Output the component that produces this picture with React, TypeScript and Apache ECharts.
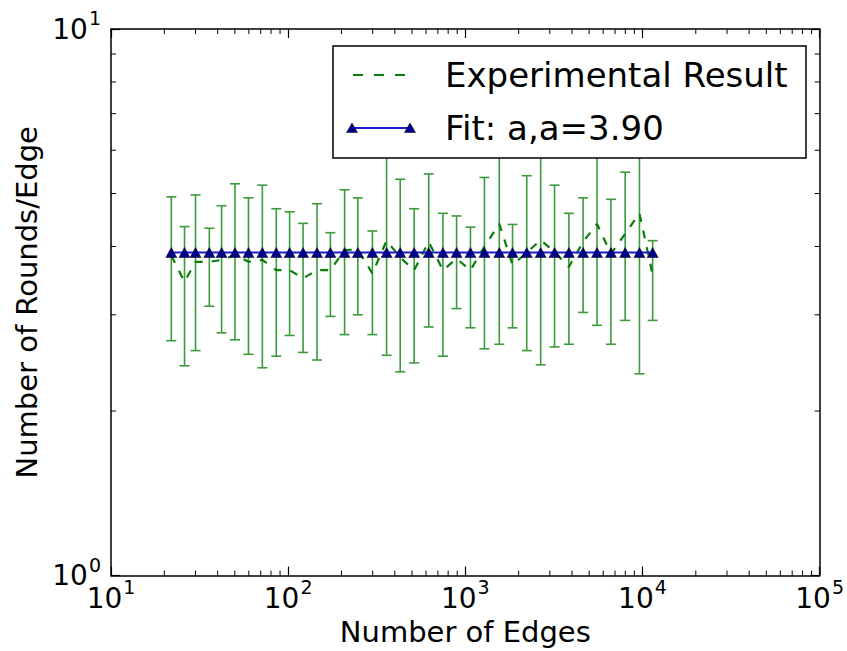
import React, { useEffect, useRef } from "react";
import * as echarts from "echarts";

// Number of edges (x) for each measurement
const edges = [
  21.9, 26.0, 30.0, 35.9, 42.1, 50.1, 59.7, 71.5, 85.7, 101.9, 121.4, 145.5,
  173.1, 208.2, 247.2, 298.9, 359.5, 429.0, 514.2, 621.5, 747.5, 892.6, 1069,
  1282, 1555, 1847, 2222, 2663, 3190, 3842, 4622, 5537, 6637, 7985, 9614, 11414,
];
// Mean number of rounds per edge
const meanRounds = [
  3.85, 3.45, 3.75, 3.75, 3.78, 3.86, 3.75, 3.78, 3.62, 3.62, 3.5, 3.62, 3.62,
  3.94, 3.95, 3.57, 4.1, 3.82, 3.62, 4.08, 3.62, 3.8, 3.62, 4.0, 4.4, 3.7, 3.9,
  4.11, 3.91, 3.67, 4.08, 4.4, 3.88, 4.22, 4.6, 3.55,
];
// Lower end of error bar
const errLow = [
  2.69, 2.42, 2.58, 3.11, 2.78, 2.7, 2.54, 2.4, 2.52, 2.75, 2.56, 2.48, 2.98,
  2.76, 3.0, 2.76, 2.53, 2.36, 2.45, 2.85, 2.52, 3.08, 2.84, 2.6, 2.65, 2.84,
  2.58, 2.43, 2.62, 2.65, 3.03, 2.87, 2.65, 2.93, 2.34, 2.93,
];
// Upper end of error bar
const errHigh = [
  4.93, 4.35, 4.97, 4.32, 4.75, 5.21, 4.91, 5.18, 4.69, 4.63, 4.41, 4.79, 4.24,
  5.08, 4.91, 4.27, 6.3, 5.31, 4.69, 5.43, 4.6, 4.55, 4.34, 5.35, 6.4, 4.39,
  5.39, 6.2, 5.18, 4.6, 4.91, 6.5, 4.88, 5.47, 6.3, 4.1,
];
// Fitted constant
const fitA = 3.9;

const xAxisName = "Number of Edges";
const yAxisName = "Number of Rounds/Edge";
const legendLabels = ["Experimental Result", "Fit: a,a=3.90"];
const xRange = [10, 100000];
const yRange = [1, 10];
const minorMultipliers = [2, 3, 4, 5, 6, 7, 8, 9];
const xDecades = [10, 100, 1000, 10000];
const yDecades = [1];

const FONT = "DejaVu Sans";
const GREEN = "#0a7d0a";
const BAR_GREEN = "#3c9a3c";
const BLUE = "#1c1cd0";
const MARKER = "#00008c";

export default function App() {
  const ref = useRef<HTMLDivElement>(null);

  useEffect(() => {
    document.body.style.margin = "0";
    if (!ref.current) return;
    const chart = echarts.init(ref.current, undefined, { renderer: "svg" });

    const labelFormatter = (v: number) => {
      const e = Math.round(Math.log10(v));
      return `{b|10}{s|${e}}`;
    };
    const rich = {
      b: { fontSize: 28, fontFamily: FONT, color: "#000" },
      s: { fontSize: 19, fontFamily: FONT, color: "#000", padding: [0, 0, 22, 1] },
    };
    const axisLine = { show: true, lineStyle: { color: "#000", width: 1.5 } };
    const majorTick = { show: true, inside: true, length: 9, lineStyle: { color: "#000", width: 1.2 } };

    const errData = edges.map((x, i) => [x, errLow[i], errHigh[i]]);
    const expData = edges.map((x, i) => [x, meanRounds[i]]);
    const fitData = edges.map((x) => [x, fitA]);

    const lx = 333, ly = 46, lw = 473, lh = 112;
    const row1 = 75, row2 = 128;
    const tri = (cx: number, cy: number) => [
      [cx - 5.5, cy + 4.5],
      [cx + 5.5, cy + 4.5],
      [cx, cy - 5],
    ];

    chart.setOption({
      animation: false,
      grid: { left: 111, top: 29, right: 23, bottom: 71, containLabel: false },
      xAxis: [
        {
          type: "log",
          logBase: 10,
          min: xRange[0],
          max: xRange[1],
          name: xAxisName,
          nameLocation: "middle",
          nameGap: 41,
          nameTextStyle: { fontSize: 29, fontFamily: FONT, color: "#000" },
          axisLine,
          axisTick: majorTick,
          splitLine: { show: false },
          axisLabel: {
            formatter: labelFormatter,
            rich,
            margin: 2,
            showMinLabel: true,
            showMaxLabel: true,
          },
        },
        {
          type: "log",
          logBase: 10,
          position: "top",
          min: xRange[0],
          max: xRange[1],
          axisLine,
          axisTick: majorTick,
          splitLine: { show: false },
          axisLabel: { show: false },
        },
      ],
      yAxis: [
        {
          type: "log",
          logBase: 10,
          min: yRange[0],
          max: yRange[1],
          name: yAxisName,
          nameLocation: "middle",
          nameGap: 70,
          nameTextStyle: { fontSize: 29, fontFamily: FONT, color: "#000" },
          axisLine,
          axisTick: majorTick,
          splitLine: { show: false },
          axisLabel: {
            formatter: labelFormatter,
            rich,
            margin: 10,
            showMinLabel: true,
            showMaxLabel: true,
          },
        },
        {
          type: "log",
          logBase: 10,
          position: "right",
          min: yRange[0],
          max: yRange[1],
          axisLine,
          axisTick: majorTick,
          splitLine: { show: false },
          axisLabel: { show: false },
        },
      ],
      graphic: [
        {
          type: "rect",
          z: 100,
          shape: { x: lx, y: ly, width: lw, height: lh },
          style: { fill: "#fff", stroke: "#000", lineWidth: 1.5 },
        },
        {
          type: "line",
          z: 101,
          shape: { x1: 353, y1: row1, x2: 407, y2: row1 },
          style: { stroke: GREEN, lineWidth: 2, lineDash: [10, 11] },
        },
        {
          type: "line",
          z: 101,
          shape: { x1: 352, y1: row2, x2: 410, y2: row2 },
          style: { stroke: BLUE, lineWidth: 2 },
        },
        { type: "polygon", z: 102, shape: { points: tri(352, row2) }, style: { fill: MARKER, stroke: "#000", lineWidth: 0.5 } },
        { type: "polygon", z: 102, shape: { points: tri(410, row2) }, style: { fill: MARKER, stroke: "#000", lineWidth: 0.5 } },
        {
          type: "text",
          z: 101,
          x: 445,
          y: row1,
          style: { text: legendLabels[0], fontSize: 34, fontFamily: FONT, fill: "#000", verticalAlign: "middle", align: "left" },
        },
        {
          type: "text",
          z: 101,
          x: 445,
          y: row2,
          style: { text: legendLabels[1], fontSize: 34, fontFamily: FONT, fill: "#000", verticalAlign: "middle", align: "left" },
        },
      ],
      series: [
        {
          type: "custom",
          name: "minorTicks",
          silent: true,
          coordinateSystem: "cartesian2d",
          data: [[xRange[0], yRange[0]]],
          encode: { x: 0, y: 1 },
          renderItem: (_params: any, api: any) => {
            const bl = api.coord([xRange[0], yRange[0]]);
            const tr = api.coord([xRange[1], yRange[1]]);
            const children: any[] = [];
            const st = { stroke: "#000", lineWidth: 1 };
            xDecades.forEach((d) => {
              minorMultipliers.forEach((m) => {
                const px = api.coord([d * m, yRange[0]])[0];
                children.push({ type: "line", shape: { x1: px, y1: bl[1], x2: px, y2: bl[1] - 5 }, style: st });
                children.push({ type: "line", shape: { x1: px, y1: tr[1], x2: px, y2: tr[1] + 5 }, style: st });
              });
            });
            yDecades.forEach((d) => {
              minorMultipliers.forEach((m) => {
                const py = api.coord([xRange[0], d * m])[1];
                children.push({ type: "line", shape: { x1: bl[0], y1: py, x2: bl[0] + 5, y2: py }, style: st });
                children.push({ type: "line", shape: { x1: tr[0], y1: py, x2: tr[0] - 5, y2: py }, style: st });
              });
            });
            return { type: "group", children };
          },
        },
        {
          type: "custom",
          name: "errorBars",
          silent: true,
          coordinateSystem: "cartesian2d",
          data: errData,
          encode: { x: 0, y: [1, 2] },
          z: 2,
          renderItem: (_params: any, api: any) => {
            const x = api.value(0);
            const lo = api.coord([x, api.value(1)]);
            const hi = api.coord([x, api.value(2)]);
            const hw = 5;
            const st = { stroke: BAR_GREEN, lineWidth: 1.6 };
            return {
              type: "group",
              children: [
                { type: "line", shape: { x1: lo[0], y1: lo[1], x2: hi[0], y2: hi[1] }, style: st },
                { type: "line", shape: { x1: lo[0] - hw, y1: lo[1], x2: lo[0] + hw, y2: lo[1] }, style: st },
                { type: "line", shape: { x1: hi[0] - hw, y1: hi[1], x2: hi[0] + hw, y2: hi[1] }, style: st },
              ],
            };
          },
        },
        {
          type: "line",
          name: legendLabels[0],
          data: expData,
          showSymbol: false,
          symbol: "none",
          z: 3,
          lineStyle: { color: GREEN, width: 2.2, type: [8, 9] },
        },
        {
          type: "line",
          name: legendLabels[1],
          data: fitData,
          symbol: "triangle",
          symbolSize: [11, 10],
          z: 4,
          lineStyle: { color: BLUE, width: 2 },
          itemStyle: { color: MARKER, borderColor: "#000", borderWidth: 0.5 },
        },
      ],
    });

    return () => chart.dispose();
  }, []);

  return <div ref={ref} style={{ width: 847, height: 651 }} />;
}
